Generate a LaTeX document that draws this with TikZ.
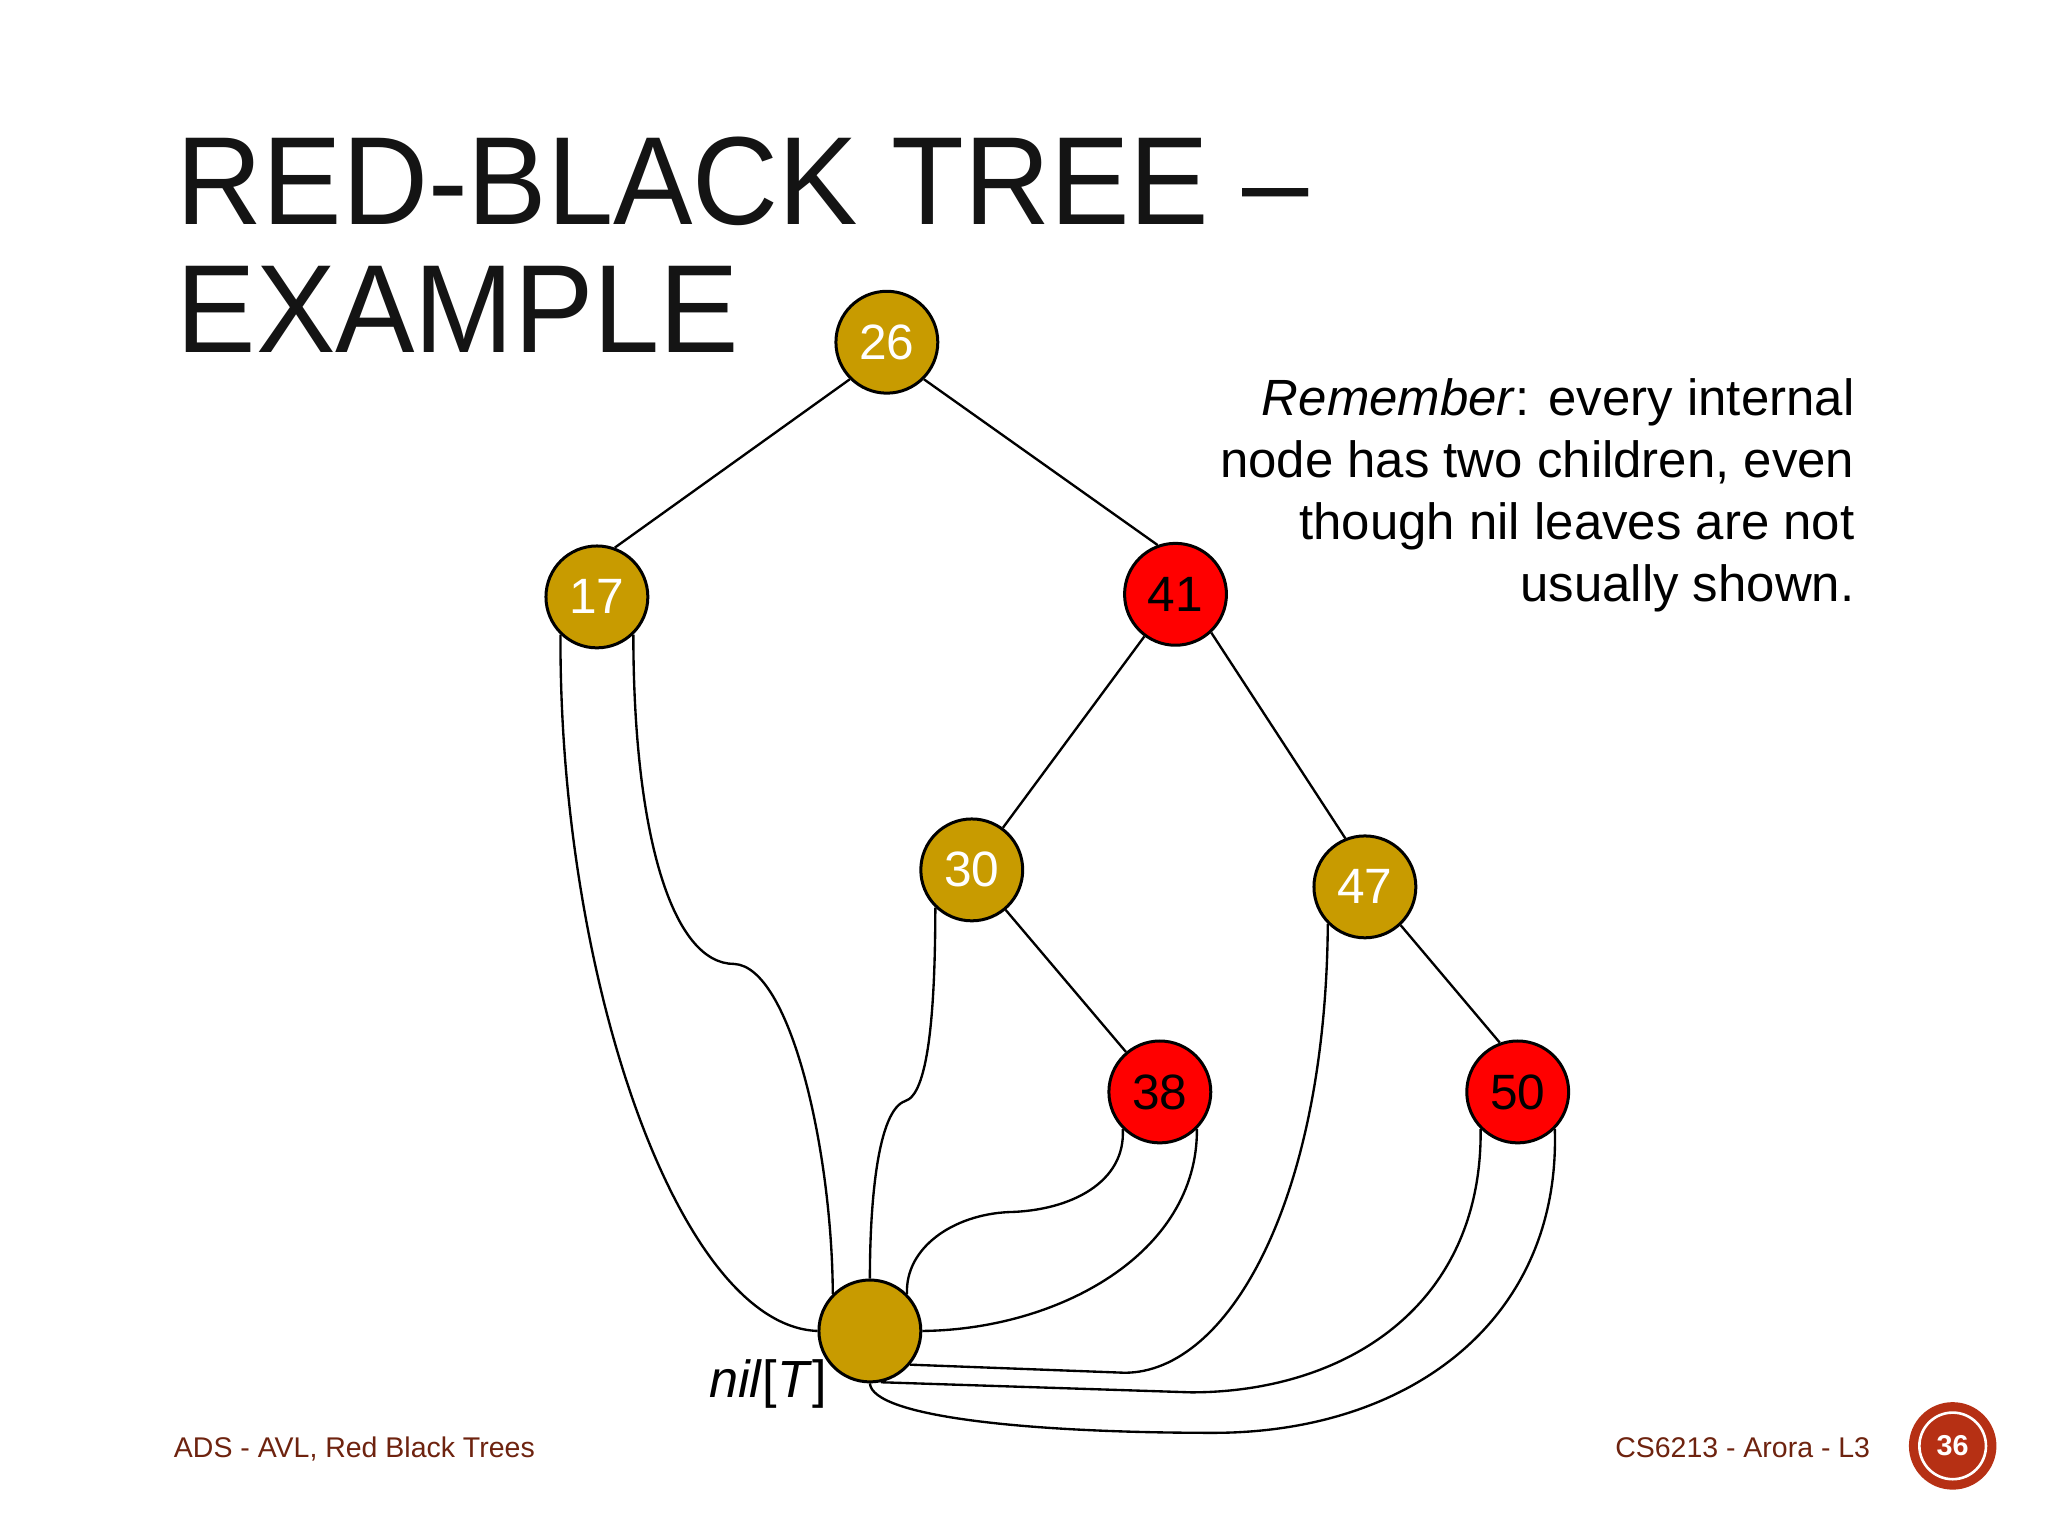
\documentclass[tikz,border=0pt]{standalone}
\usepackage{fontspec}
\setmainfont{Liberation Sans}
\usepackage{graphicx}
\definecolor{gold}{RGB}{200,155,0}
\definecolor{rbred}{RGB}{255,0,0}
\definecolor{footbrown}{RGB}{110,35,15}
\definecolor{badgered}{RGB}{182,48,20}
\begin{document}
\begin{tikzpicture}[x=1pt,y=-1pt,
  rb/.style={circle, draw=black, line width=2.3pt, minimum size=78pt, inner sep=0pt,
             font=\fontsize{38}{38}\selectfont},
  goldn/.style={rb, fill=gold, text=white},
  redn/.style={rb, fill=rbred, text=black},
  edge/.style={line width=1.8pt, draw=black},
  remtext/.style={anchor=base east, inner sep=0pt, font=\fontsize{39}{39}\selectfont},
  titletext/.style={anchor=base west, inner sep=0pt, font=\fontsize{96}{96}\selectfont, text=black!92},
  foottext/.style={inner sep=0pt, font=\fontsize{21.8}{21.8}\selectfont, text=footbrown},
]
\useasboundingbox[fill=white] (0,0) rectangle (1568,1176);

% title
\node[titletext] (t1) at (135,172) {\scalebox{0.95}[1]{RED-BLACK TREE –}};
\node[titletext] (t2) at (135,270) {\scalebox{0.95}[1]{EXAMPLE}};

% remark
\node[remtext] (r1) at (1420,318) {\textit{Remember}: every internal};
\node[remtext] (r2) at (1420,365.5) {node has two children, even};
\node[remtext] (r3) at (1420,413) {though nil leaves are not};
\node[remtext] (r4) at (1420,460.5) {usually shown.};

% tree nodes
\node[goldn] (n26) at (679,262) {26};
\node[goldn] (n17) at (457,457) {17};
\node[redn]  (n41) at (900,455) {41};
\node[goldn] (n30) at (744,666) {30};
\node[goldn] (n47) at (1045,679) {47};
\node[redn]  (n38) at (888,836) {38};
\node[redn]  (n50) at (1162,836) {50};
\node[goldn] (nil) at (666,1019) {};
\node[anchor=base east, inner sep=0pt, font=\fontsize{40}{40}\selectfont] (nillab) at (633,1070) {\textit{nil}[\textit{T}]};

% tree edges
\draw[edge] (n26.225) -- (n17.70);
\draw[edge] (n26.315) -- (n41.110);
\draw[edge] (n41) -- (n30);
\draw[edge] (n41.313) -- (n47.112);
\draw[edge] (n30) -- (n38);
\draw[edge] (n47.313) -- (n50.110);

% nil connectors
\draw[edge] (n17.226) .. controls (428,750) and (520,1015) .. (nil.180);
\draw[edge] (n17.314) .. controls (485,640) and (515,738) .. (562,738)
            .. controls (605,740) and (637,880) .. (nil.135);
\draw[edge] (n30.226) .. controls (716,780) and (710,838) .. (693,843)
            .. controls (672,850) and (666,920) .. (nil.90);
\draw[edge] (n38.225) .. controls (862,905) and (820,927) .. (772,928)
            .. controls (730,930) and (693,955) .. (nil.45);
\draw[edge] (n38.315) .. controls (917,960) and (810,1018) .. (nil.0);
\draw[edge] (n47.225) .. controls (1015,920) and (940,1051) .. (861,1051) -- (nil.320);
\draw[edge] (n50.225) .. controls (1135,1000) and (1030,1066) .. (912,1066) -- (nil.282);
\draw[edge] (n50.315) .. controls (1195,1010) and (1080,1097) .. (929,1097)
            .. controls (790,1097) and (668,1085) .. (nil.270);

% footer
\node[foottext, anchor=base west] (f1) at (133,1116) {ADS - AVL, Red Black Trees};
\node[foottext, anchor=base east] (f2) at (1432,1116) {CS6213 - Arora - L3};
\node[circle, fill=badgered, minimum size=67pt, inner sep=0pt] (badge) at (1495,1107) {};
\node[circle, draw=white, line width=2pt, minimum size=51pt, inner sep=0pt,
      text=white, font=\fontsize{22}{22}\selectfont\bfseries] (pnum) at (badge.center) {36};
\end{tikzpicture}
\end{document}
